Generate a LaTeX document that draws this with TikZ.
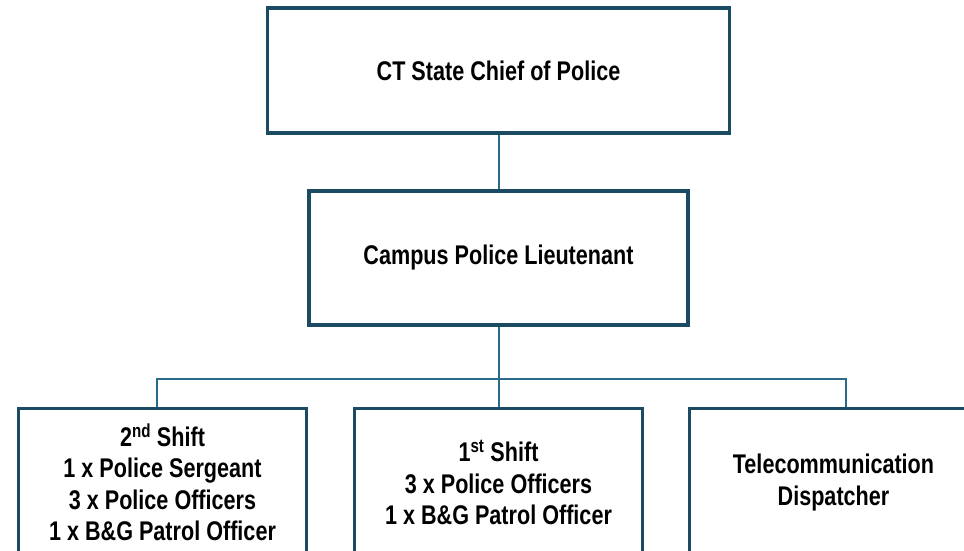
\documentclass[tikz,border=0pt]{standalone}
\usepackage{fontspec}
\setmainfont{Liberation Sans}[FakeStretch=0.8]
\usepackage{tikz}
\definecolor{boxline}{HTML}{1B4A63}
\definecolor{linkline}{HTML}{2A6B8C}

\begin{document}
\begin{tikzpicture}[x=1pt, y=-1pt,
        orgbox/.style={draw=boxline, line width=3.5pt, fill=white, align=center, inner sep=0pt,
            font=\fontsize{27}{31.5}\selectfont\bfseries},
        link/.style={draw=linkline, line width=2pt}]
        \clip (0,0) rectangle (964,550);
        \fill[white] (0,0) rectangle (964,550);
        \node[orgbox, minimum width=462, minimum height=125] (chief) at (498.5,70.5) {CT State Chief of Police};
        \node[orgbox, minimum width=379, minimum height=134] (lead) at (498.5,258) {Campus Police Lieutenant};
        \node[orgbox, minimum width=288, minimum height=148] (second) at (162.5,482.5)
            {2\textsuperscript{nd} Shift\\1 x Police Sergeant\\3 x Police Officers\\1 x B\&G Patrol Officer};
        \node[orgbox, minimum width=288, minimum height=148] (first) at (498.5,482.5)
            {1\textsuperscript{st} Shift\\3 x Police Officers\\1 x B\&G Patrol Officer};
        \node[orgbox, minimum width=288, minimum height=148] (dispatch) at (833.5,482.5)
            {Telecommunication\\Dispatcher};
        \draw[link] (chief.south) -- (lead.north);
        \draw[link] (lead.south) -- ++(0,52) coordinate (bus);
        \draw[link] ([xshift=-5.5pt]second.north) |- (bus) -| ([xshift=12.5pt]dispatch.north);
        \draw[link] (bus) -- (first.north);
    \end{tikzpicture}
\end{document}
